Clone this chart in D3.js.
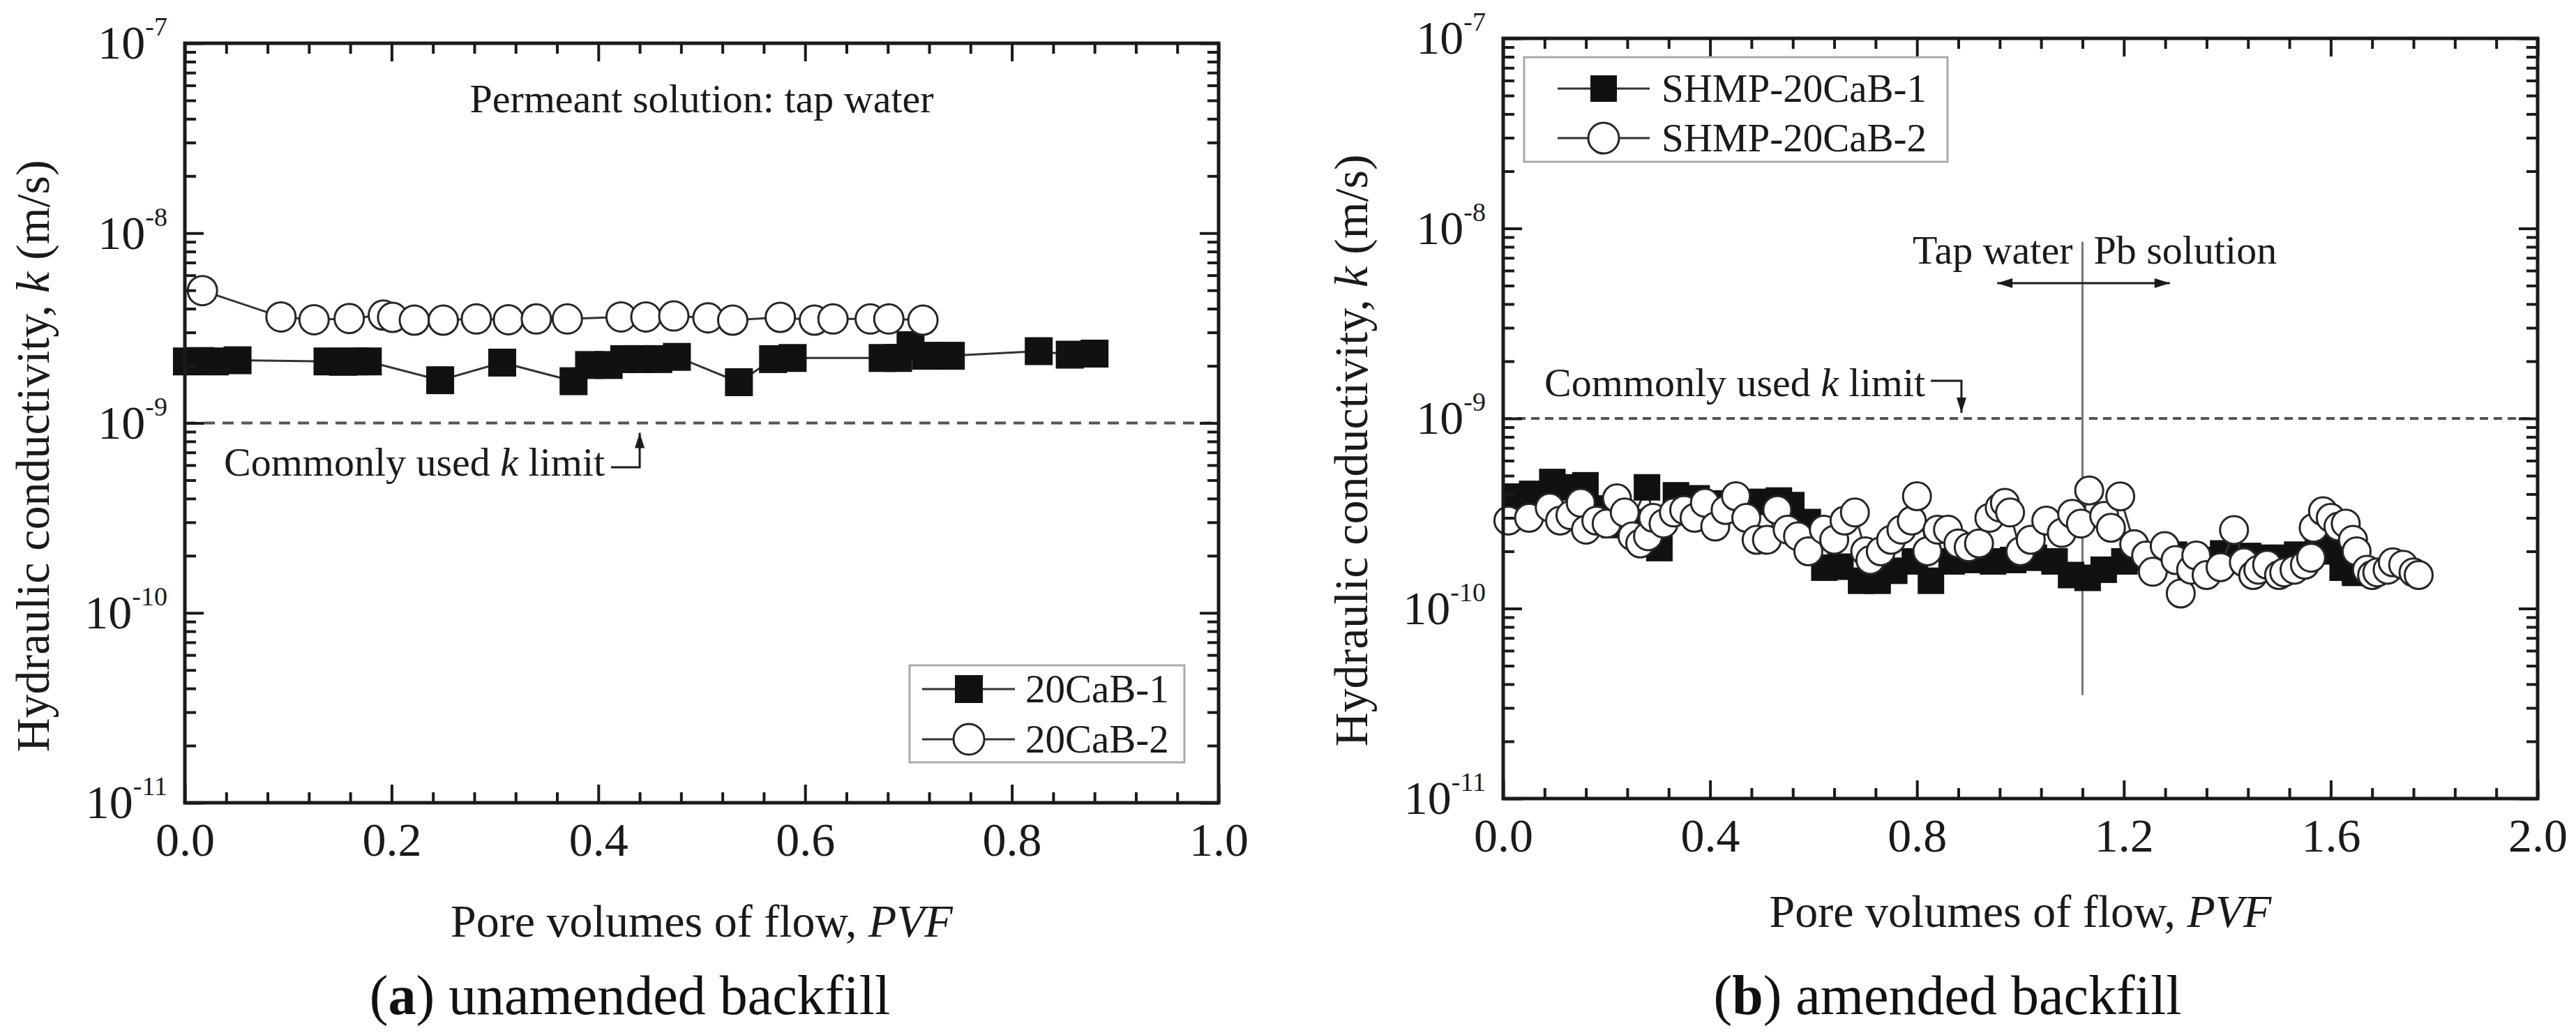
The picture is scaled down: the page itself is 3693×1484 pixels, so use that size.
<!DOCTYPE html>
<html>
<head>
<meta charset="utf-8">
<script src="https://cdn.jsdelivr.net/npm/d3@7"></script>
<style>
  body { margin: 0; background: #fff; }
  svg { display: block; font-family: "Liberation Serif", "Times New Roman", serif; }
</style>
</head>
<body>
<div id="chart"></div>
<script>
// ---- data ----
// (a) unamended backfill
const A_SQ_PVF = [0.002, 0.015, 0.029, 0.051, 0.138, 0.153, 0.165, 0.177, 0.247, 0.307, 0.376, 0.391, 0.410, 0.425,
  0.440, 0.458, 0.476, 0.536, 0.569, 0.588, 0.675, 0.690, 0.702, 0.717, 0.741, 0.826, 0.856, 0.880]
const A_SQ_K = [2.11e-9, 2.12e-9, 2.11e-9, 2.14e-9, 2.11e-9, 2.10e-9, 2.11e-9, 2.11e-9, 1.68e-9, 2.08e-9, 1.66e-9, 2.02e-9,
  2.02e-9, 2.17e-9, 2.17e-9, 2.17e-9, 2.23e-9, 1.64e-9, 2.17e-9, 2.20e-9, 2.20e-9, 2.20e-9, 2.57e-9, 2.26e-9, 2.26e-9,
  2.39e-9, 2.29e-9, 2.32e-9]
const A_CI_PVF = [0.017, 0.093, 0.125, 0.159, 0.192, 0.201, 0.222, 0.250, 0.282, 0.313, 0.340, 0.370, 0.422, 0.446,
  0.473, 0.506, 0.530, 0.576, 0.609, 0.627, 0.663, 0.681, 0.714]
const A_CI_K = [4.98e-9, 3.62e-9, 3.50e-9, 3.55e-9, 3.70e-9, 3.60e-9, 3.48e-9, 3.48e-9, 3.53e-9, 3.50e-9, 3.53e-9, 3.53e-9,
  3.62e-9, 3.62e-9, 3.66e-9, 3.58e-9, 3.48e-9, 3.60e-9, 3.48e-9, 3.53e-9, 3.53e-9, 3.53e-9, 3.48e-9]

// (b) amended backfill
const B_SQ_PVF = [0.024, 0.056, 0.095, 0.127, 0.159, 0.191, 0.215, 0.247, 0.278, 0.302, 0.334, 0.374, 0.414, 0.453,
  0.501, 0.533, 0.557, 0.589, 0.621, 0.652, 0.692, 0.724, 0.756, 0.796, 0.827, 0.867, 0.907, 0.947, 0.986, 1.026,
  1.066, 1.098, 1.130, 1.161, 1.201, 1.249, 1.297, 1.344, 1.392, 1.440, 1.488, 1.535, 1.575, 1.599, 1.623, 1.647]
const B_SQ_K = [3.88e-10, 4.01e-10, 4.63e-10, 4.34e-10, 4.45e-10, 3.36e-10, 2.75e-10, 2.85e-10, 4.34e-10, 2.08e-10,
  3.94e-10, 3.80e-10, 3.57e-10, 3.40e-10, 3.64e-10, 3.70e-10, 3.50e-10, 2.85e-10, 1.64e-10, 1.66e-10, 1.40e-10,
  1.40e-10, 1.58e-10, 1.77e-10, 1.40e-10, 1.77e-10, 1.80e-10, 1.77e-10, 1.80e-10, 1.85e-10, 1.77e-10, 1.50e-10,
  1.45e-10, 1.60e-10, 1.77e-10, 1.85e-10, 1.92e-10, 1.80e-10, 1.95e-10, 1.89e-10, 1.85e-10, 1.92e-10, 2.00e-10,
  2.08e-10, 1.64e-10, 1.54e-10]
const B_CI_PVF = [0.01, 0.05, 0.09, 0.11, 0.13, 0.15, 0.16, 0.18, 0.20, 0.22, 0.235, 0.25, 0.265, 0.28, 0.29, 0.31,
  0.33, 0.35, 0.37, 0.39, 0.41, 0.43, 0.45, 0.47, 0.49, 0.51, 0.53, 0.55, 0.57, 0.59, 0.62, 0.64, 0.66, 0.68, 0.70,
  0.71, 0.73, 0.75, 0.77, 0.79, 0.80, 0.82, 0.84, 0.86, 0.88, 0.90, 0.92, 0.94, 0.96, 0.97, 0.98, 1.00, 1.02, 1.05,
  1.08, 1.10, 1.117, 1.133, 1.162, 1.175, 1.193, 1.22, 1.243, 1.256, 1.279, 1.30, 1.31, 1.33, 1.34, 1.36,
  1.387, 1.413, 1.432, 1.45, 1.46, 1.477, 1.50, 1.51, 1.53, 1.55, 1.562, 1.567, 1.585, 1.60, 1.615, 1.629, 1.643,
  1.65, 1.67, 1.68, 1.69, 1.71, 1.72, 1.74, 1.76, 1.77]
const B_CI_K = [2.9e-10, 3.0e-10, 3.4e-10, 2.9e-10, 3.1e-10, 3.6e-10, 2.6e-10, 2.9e-10, 2.8e-10, 3.8e-10, 3.2e-10,
  2.4e-10, 2.2e-10, 2.4e-10, 3.0e-10, 2.8e-10, 3.2e-10, 3.3e-10, 3.0e-10, 3.6e-10, 2.7e-10, 3.3e-10, 3.9e-10, 3.0e-10,
  2.3e-10, 2.3e-10, 3.3e-10, 2.6e-10, 2.4e-10, 2.0e-10, 2.6e-10, 2.3e-10, 2.9e-10, 3.2e-10, 2.0e-10, 1.8e-10, 2.0e-10,
  2.3e-10, 2.6e-10, 2.9e-10, 3.9e-10, 2.0e-10, 2.6e-10, 2.6e-10, 2.2e-10, 2.1e-10, 2.2e-10, 3.0e-10, 3.4e-10, 3.6e-10,
  3.2e-10, 2.0e-10, 2.3e-10, 2.9e-10, 2.5e-10, 3.15e-10, 2.8e-10, 4.18e-10, 3.07e-10, 2.66e-10, 3.89e-10, 2.18e-10,
  1.9e-10, 1.56e-10, 2.13e-10, 1.8e-10, 1.2e-10, 1.6e-10, 1.9e-10, 1.5e-10, 1.65e-10, 2.59e-10, 1.75e-10, 1.5e-10,
  1.6e-10, 1.7e-10, 1.5e-10, 1.55e-10, 1.6e-10, 1.7e-10, 1.85e-10, 2.66e-10, 3.25e-10, 3.0e-10, 2.7e-10, 2.8e-10,
  2.3e-10, 2.0e-10, 1.6e-10, 1.5e-10, 1.55e-10, 1.6e-10, 1.75e-10, 1.7e-10, 1.55e-10, 1.5e-10]

// axes
const K_MAJOR = [1e-11, 1e-10, 1e-9, 1e-8, 1e-7]
const A_X_TICKS = [0, 0.2, 0.4, 0.6, 0.8, 1.0]
const B_X_TICKS = [0, 0.4, 0.8, 1.2, 1.6, 2.0]
const K_LIMIT = 1e-9

// texts
const Y_TITLE = "Hydraulic conductivity, "
const X_TITLE = "Pore volumes of flow, "
const A_LEGEND = ["20CaB-1", "20CaB-2"]
const B_LEGEND = ["SHMP-20CaB-1", "SHMP-20CaB-2"]

// ---- drawing ----
const W = 3693, H = 1484
const INK = "#1a1a1a"
const svg = d3.select("#chart").append("svg")
  .attr("width", W).attr("height", H)
  .attr("viewBox", `0 0 ${W} ${H}`)

const zip = (xs, ys) => xs.map((v, i) => [v, ys[i]])

function drawPanel(p) {
  const x = d3.scaleLinear().domain(p.xDomain).range([p.left, p.right])
  const y = d3.scaleLog().domain([1e-11, 1e-7]).range([p.bottom, p.top])
  const g = svg.append("g")

  // minor tick values
  const minorX = d3.range(p.xDomain[0], p.xDomain[1] + 1e-9, p.minorStep)
    .filter(v => !p.xTicks.some(t => Math.abs(t - v) < 1e-6))
  const minorY = d3.range(-11, -7).flatMap(e => d3.range(2, 10).map(m => m * Math.pow(10, e)))

  // reference line k = 1e-9
  g.append("line")
    .attr("x1", p.left).attr("x2", p.right)
    .attr("y1", y(K_LIMIT)).attr("y2", y(K_LIMIT))
    .attr("stroke", "#555").attr("stroke-width", 4)
    .attr("stroke-dasharray", p.dash)

  if (p.extra) p.extra(g, x, y)

  // series
  const line = d3.line().x(d => x(d[0])).y(d => y(d[1]))
  p.series.forEach(s => {
    const pts = zip(s.xs, s.ks)
    g.append("path").datum(pts)
      .attr("d", line).attr("fill", "none")
      .attr("stroke", "#333").attr("stroke-width", 3)
    if (s.shape === "square") {
      g.selectAll(null).data(pts).enter().append("rect")
        .attr("x", d => x(d[0]) - p.sq / 2).attr("y", d => y(d[1]) - p.sq / 2)
        .attr("width", p.sq).attr("height", p.sq)
        .attr("fill", "#111")
    } else {
      g.selectAll(null).data(pts).enter().append("circle")
        .attr("cx", d => x(d[0])).attr("cy", d => y(d[1])).attr("r", p.r)
        .attr("fill", "#fff").attr("stroke", "#262626").attr("stroke-width", 3)
    }
  })

  // axes, ticks pointing inward on all four sides
  const styleAxis = sel => {
    sel.select(".domain").remove()
    sel.selectAll(".tick line").attr("stroke", INK).attr("stroke-width", 4)
    sel.selectAll("text").attr("fill", INK).attr("font-size", 68)
      .attr("font-family", "Liberation Serif, Times New Roman, serif")
  }
  const mk = (axis, scale, vals, size, fmt) => axis(scale).tickValues(vals).tickSize(-size).tickFormat(fmt)

  g.append("g").attr("transform", `translate(0,${p.bottom})`)
    .call(mk(d3.axisBottom, x, p.xTicks, 26, d3.format(".1f")).tickPadding(28)).call(styleAxis)
  g.append("g").attr("transform", `translate(0,${p.bottom})`)
    .call(mk(d3.axisBottom, x, minorX, 15, "")).call(styleAxis)
  g.append("g").attr("transform", `translate(0,${p.top})`)
    .call(mk(d3.axisTop, x, p.xTicks, 26, "")).call(styleAxis)
  g.append("g").attr("transform", `translate(0,${p.top})`)
    .call(mk(d3.axisTop, x, minorX, 15, "")).call(styleAxis)

  const yAx = g.append("g").attr("transform", `translate(${p.left},0)`)
    .call(mk(d3.axisLeft, y, K_MAJOR, 27, () => "10").tickPadding(25)).call(styleAxis)
  yAx.selectAll(".tick text").each(function(d) {
    d3.select(this).append("tspan")
      .attr("dy", -33).attr("font-size", 38)
      .text(Math.round(Math.log10(d)))
  })
  g.append("g").attr("transform", `translate(${p.left},0)`)
    .call(mk(d3.axisLeft, y, minorY, 16, "")).call(styleAxis)
  g.append("g").attr("transform", `translate(${p.right},0)`)
    .call(mk(d3.axisRight, y, K_MAJOR, 27, "")).call(styleAxis)
  g.append("g").attr("transform", `translate(${p.right},0)`)
    .call(mk(d3.axisRight, y, minorY, 16, "")).call(styleAxis)

  // frame
  g.append("rect")
    .attr("x", p.left).attr("y", p.top)
    .attr("width", p.right - p.left).attr("height", p.bottom - p.top)
    .attr("fill", "none").attr("stroke", INK).attr("stroke-width", 5)

  // axis titles
  const yt = g.append("text")
    .attr("transform", `translate(${p.yTitleX},${p.yTitleY}) rotate(-90)`)
    .attr("text-anchor", "middle").attr("font-size", 68).attr("fill", INK)
  yt.append("tspan").text(Y_TITLE)
  yt.append("tspan").attr("font-style", "italic").text("k")
  yt.append("tspan").text(" (m/s)")

  const xt = g.append("text")
    .attr("x", (p.left + p.right) / 2).attr("y", p.xTitleY)
    .attr("text-anchor", "middle").attr("font-size", 66).attr("fill", INK)
  xt.append("tspan").text(X_TITLE)
  xt.append("tspan").attr("font-style", "italic").text("PVF")

  // caption
  const cap = g.append("text")
    .attr("x", p.capX).attr("y", 1454)
    .attr("text-anchor", "middle").attr("font-size", 80).attr("fill", "#111")
  cap.append("tspan").text("(")
  cap.append("tspan").attr("font-weight", "bold").text(p.capLetter)
  cap.append("tspan").text(") " + p.capText)

  // k limit label with its bent arrow
  const lim = g.append("text")
    .attr("x", p.limText[0]).attr("y", p.limText[1])
    .attr("font-size", 58).attr("fill", INK)
  lim.append("tspan").text("Commonly used ")
  lim.append("tspan").attr("font-style", "italic").text("k")
  lim.append("tspan").text(" limit")
  const ax = x(p.limArrowX)
  const bend = p.limBendY
  const tip = y(K_LIMIT) + p.limTipOff
  g.append("path")
    .attr("d", `M${p.limText[0] + p.limTextW},${bend}H${ax}V${tip}`)
    .attr("fill", "none").attr("stroke", INK).attr("stroke-width", 3)
  const dir = Math.sign(tip - bend)
  g.append("path")
    .attr("d", `M${ax},${tip}l-7,${-dir * 22}h14z`)
    .attr("fill", INK)

  // legend
  const lg = p.legend
  g.append("rect")
    .attr("x", lg.x).attr("y", lg.y).attr("width", lg.w).attr("height", lg.h)
    .attr("fill", "#fff").attr("stroke", "#aaa").attr("stroke-width", 3)
  lg.labels.forEach((label, i) => {
    const cy = lg.rows[i]
    g.append("line")
      .attr("x1", lg.lineX[0]).attr("x2", lg.lineX[1]).attr("y1", cy).attr("y2", cy)
      .attr("stroke", "#333").attr("stroke-width", 3)
    if (i === 0) {
      g.append("rect").attr("x", lg.markX - lg.sq / 2).attr("y", cy - lg.sq / 2)
        .attr("width", lg.sq).attr("height", lg.sq).attr("fill", "#111")
    } else {
      g.append("circle").attr("cx", lg.markX).attr("cy", cy).attr("r", lg.r)
        .attr("fill", "#fff").attr("stroke", "#262626").attr("stroke-width", 3)
    }
    g.append("text").attr("x", lg.textX).attr("y", cy).attr("dy", "0.34em")
      .attr("font-size", 57).attr("fill", INK).text(label)
  })
}

drawPanel({
  left: 265, right: 1747, top: 62, bottom: 1151,
  xDomain: [0, 1], xTicks: A_X_TICKS, minorStep: 0.04,
  dash: "16,11", sq: 40, r: 21,
  series: [
    { xs: A_SQ_PVF, ks: A_SQ_K, shape: "square" },
    { xs: A_CI_PVF, ks: A_CI_K, shape: "circle" }
  ],
  yTitleX: 70, yTitleY: 654, xTitleY: 1343,
  capX: 903, capLetter: "a", capText: "unamended backfill",
  limText: [321, 682], limTextW: 555, limBendY: 670, limArrowX: 0.44, limTipOff: 14,
  legend: { x: 1304, y: 954, w: 394, h: 139, rows: [988, 1060], lineX: [1322, 1455],
    markX: 1389, textX: 1470, sq: 40, r: 22, labels: A_LEGEND },
  extra: (g, x, y) => {
    g.append("text")
      .attr("x", x(0.5)).attr("y", 161)
      .attr("text-anchor", "middle").attr("font-size", 58).attr("fill", INK)
      .text("Permeant solution: tap water")
  }
})

drawPanel({
  left: 2155, right: 3638, top: 55, bottom: 1145,
  xDomain: [0, 2], xTicks: B_X_TICKS, minorStep: 0.08,
  dash: "12,8", sq: 38, r: 20,
  series: [
    { xs: B_SQ_PVF, ks: B_SQ_K, shape: "square" },
    { xs: B_CI_PVF, ks: B_CI_K, shape: "circle" }
  ],
  yTitleX: 1960, yTitleY: 646, xTitleY: 1329,
  capX: 2792, capLetter: "b", capText: "amended backfill",
  limText: [2214, 568], limTextW: 554, limBendY: 546, limArrowX: 0.886, limTipOff: -8,
  legend: { x: 2185, y: 82, w: 607, h: 150, rows: [127, 198], lineX: [2233, 2365],
    markX: 2299, textX: 2382, sq: 38, r: 22, labels: B_LEGEND },
  extra: (g, x, y) => {
    // permeant switch from tap water to Pb solution
    const sw = 1.12
    g.append("line")
      .attr("x1", x(sw)).attr("x2", x(sw))
      .attr("y1", y(8.5e-9)).attr("y2", y(3.5e-11))
      .attr("stroke", "#777").attr("stroke-width", 3)
    g.append("text").attr("x", x(sw) - 14).attr("y", y(6.5e-9))
      .attr("text-anchor", "end").attr("font-size", 58).attr("fill", INK).text("Tap water")
    g.append("text").attr("x", x(sw) + 16).attr("y", y(6.5e-9))
      .attr("font-size", 58).attr("fill", INK).text("Pb solution")
    const ay = y(5.15e-9), xa = x(0.955), xb = x(1.289)
    g.append("line").attr("x1", xa).attr("x2", xb).attr("y1", ay).attr("y2", ay)
      .attr("stroke", INK).attr("stroke-width", 3)
    g.append("path").attr("d", `M${xa},${ay}l22,-7v14z`).attr("fill", INK)
    g.append("path").attr("d", `M${xb},${ay}l-22,-7v14z`).attr("fill", INK)
  }
})
</script>
</body>
</html>
